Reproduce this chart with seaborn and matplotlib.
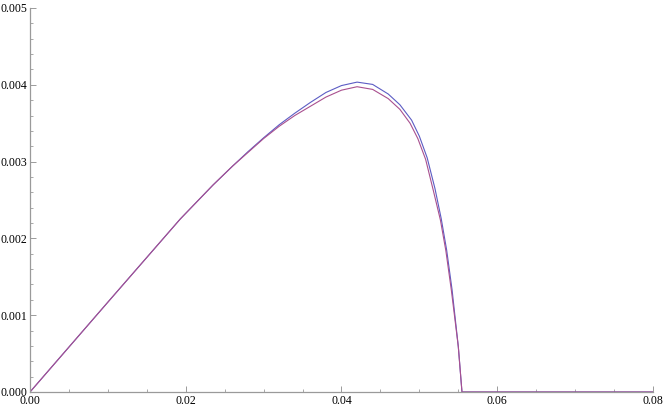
import numpy as np
import pandas as pd
import matplotlib
matplotlib.use('Agg')
import matplotlib.pyplot as plt
import seaborn as sns
from matplotlib.ticker import MultipleLocator, FormatStrFormatter

# values
x_blue = [0.0, 0.0100, 0.0193, 0.0235, 0.0260, 0.0280, 0.0300, 0.0320, 0.0340, 0.0360,
          0.0380, 0.0400, 0.0420, 0.0440, 0.0460, 0.0475, 0.0490, 0.0500, 0.0510, 0.0520,
          0.0528, 0.0535, 0.0542, 0.0550, 0.05547, 0.0600, 0.0800]
y_blue = [0.0, 0.00117, 0.002253, 0.002695, 0.00294, 0.00313, 0.00331, 0.00348, 0.00363, 0.00377,
          0.00390, 0.00399, 0.004035, 0.004005, 0.00388, 0.00374, 0.00354, 0.00333, 0.00305, 0.00265,
          0.00226, 0.00185, 0.00133, 0.00059, 0.0, 0.0, 0.0]

x_purple = [0.0, 0.0100, 0.0193, 0.0235, 0.0260, 0.0280, 0.0300, 0.0320, 0.0340, 0.0360,
            0.0380, 0.0400, 0.0420, 0.0440, 0.0460, 0.0475, 0.0488, 0.0498, 0.0508, 0.0518,
            0.0527, 0.0534, 0.0541, 0.0550, 0.05547, 0.0600, 0.0800]
y_purple = [0.0, 0.00117, 0.002253, 0.002695, 0.00294, 0.00312, 0.00330, 0.00346, 0.00360, 0.00372,
            0.00384, 0.00393, 0.003975, 0.00394, 0.00382, 0.00368, 0.00350, 0.00330, 0.00303, 0.00262,
            0.00224, 0.00184, 0.00133, 0.00059, 0.0, 0.0, 0.0]

df = pd.concat([
    pd.DataFrame({'x': x_blue, 'y': y_blue, 'series': 'a'}),
    pd.DataFrame({'x': x_purple, 'y': y_purple, 'series': 'b'}),
], ignore_index=True)

sns.set_style('white')
plt.rcParams['font.family'] = ['Liberation Serif', 'DejaVu Serif']

fig = plt.figure(figsize=(6.64, 4.09), dpi=100)
ax = fig.add_axes([30 / 664, 17 / 409, 623 / 664, 384 / 409])

palette = {'a': '#5c5cc4', 'b': '#a9508f'}
sns.lineplot(data=df, x='x', y='y', hue='series', palette=palette, sort=False,
             estimator=None, linewidth=0.8, legend=False, ax=ax)

ax.set_xlim(0, 0.08)
ax.set_ylim(0, 0.005)
ax.set_xlabel('')
ax.set_ylabel('')

for side in ['top', 'right']:
    ax.spines[side].set_visible(False)
for side in ['left', 'bottom']:
    ax.spines[side].set_color('#9a9a9a')
    ax.spines[side].set_linewidth(0.9)

ax.xaxis.set_major_locator(MultipleLocator(0.02))
ax.xaxis.set_minor_locator(MultipleLocator(0.005))
ax.yaxis.set_major_locator(MultipleLocator(0.001))
ax.yaxis.set_minor_locator(MultipleLocator(0.0002))
ax.xaxis.set_major_formatter(FormatStrFormatter('%.2f'))
ax.yaxis.set_major_formatter(FormatStrFormatter('%.3f'))

ax.tick_params(axis='both', which='major', direction='in', length=4, width=0.7,
               color='#9a9a9a', labelsize=8.5, labelcolor='black', pad=2)
ax.tick_params(axis='both', which='minor', direction='in', length=2.3, width=0.6,
               color='#9a9a9a')
ax.tick_params(axis='x', which='both', bottom=True, top=False)
ax.tick_params(axis='y', which='both', left=True, right=False)

fig.savefig('out.png', dpi=100)
